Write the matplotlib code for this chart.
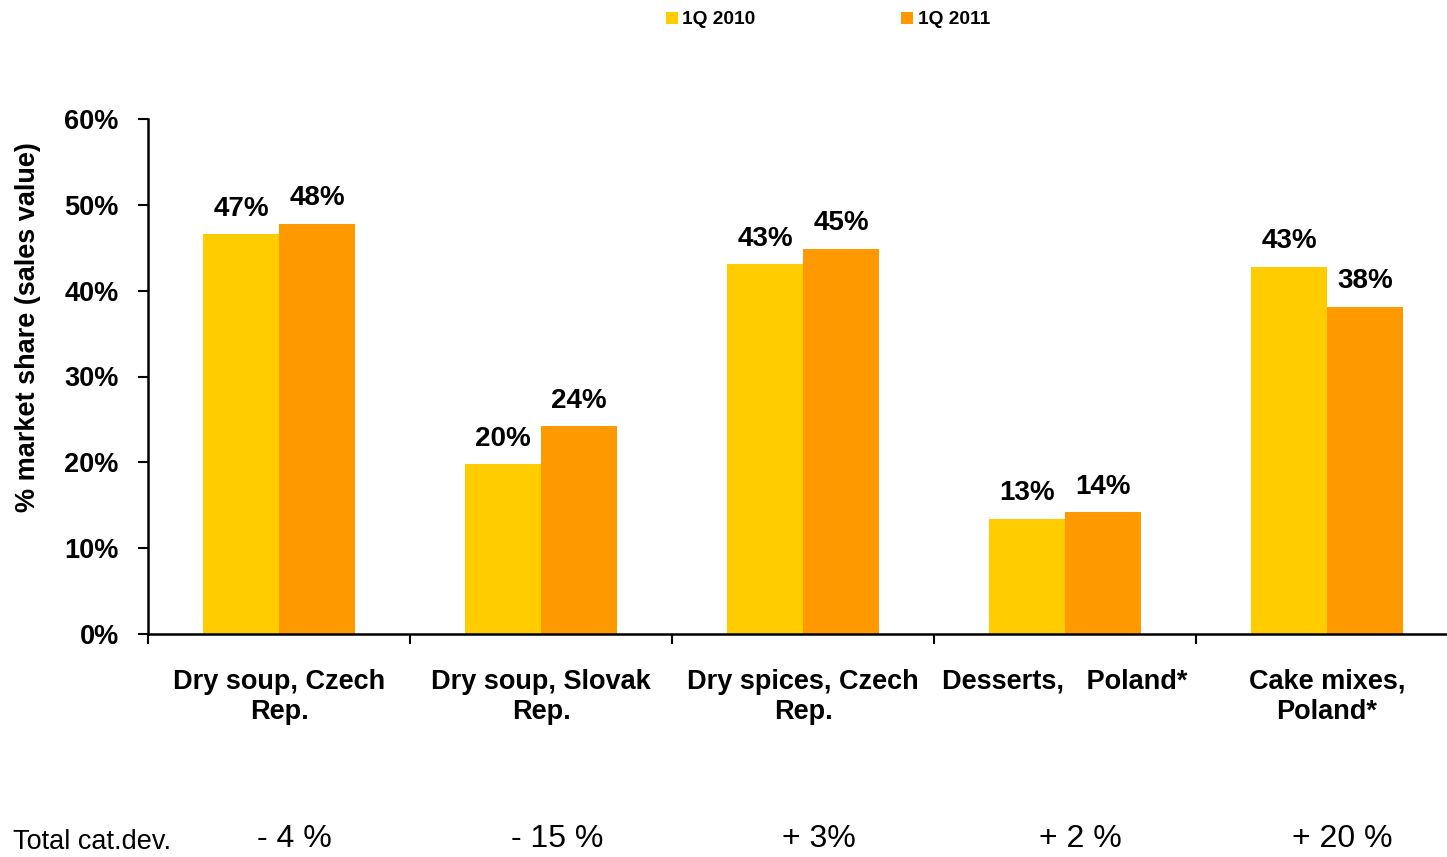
import matplotlib
matplotlib.use("Agg")
import matplotlib.pyplot as plt
from matplotlib.ticker import PercentFormatter
import matplotlib.transforms as mtransforms
import numpy as np

plt.rcParams['font.family'] = ['Liberation Sans', 'DejaVu Sans']

categories = ["Dry soup, Czech\nRep.", "Dry soup, Slovak\nRep.", "Dry spices, Czech\nRep.",
              "Desserts,   Poland*", "Cake mixes,\nPoland*"]
series_names = ["1Q 2010", "1Q 2011"]
values_2010 = [46.6, 19.8, 43.1, 13.4, 42.8]
values_2011 = [47.8, 24.2, 44.9, 14.2, 38.1]
labels_2010 = ["47%", "20%", "43%", "13%", "43%"]
labels_2011 = ["48%", "24%", "45%", "14%", "38%"]
total_dev = ["- 4 %", "- 15 %", "+ 3%", "+ 2 %", "+ 20 %"]
yticks = [0, 10, 20, 30, 40, 50, 60]

colors = ["#FFCC00", "#FF9900"]
W, H = 1447, 857
fig = plt.figure(figsize=(W / 100, H / 100), dpi=100)
ax = fig.add_axes([148 / W, 1 - 634 / H, 1310 / W, (634 - 119) / H])

x = np.arange(len(categories))
bw = 0.29
b1 = ax.bar(x - bw / 2, values_2010, bw, color=colors[0], label=series_names[0])
b2 = ax.bar(x + bw / 2, values_2011, bw, color=colors[1], label=series_names[1])

for bars, labs in ((b1, labels_2010), (b2, labels_2011)):
    for rect, lab in zip(bars, labs):
        ax.annotate(lab, (rect.get_x() + rect.get_width() / 2, rect.get_height()),
                    xytext=(0, 9), textcoords="offset points", ha="center", va="bottom",
                    fontsize=20, fontweight="bold")

ax.set_xlim(-0.5, len(categories) - 0.5)
ax.set_ylim(0, 60)
ax.set_yticks(yticks)
ax.yaxis.set_major_formatter(PercentFormatter(decimals=0))
ax.tick_params(axis="y", direction="out", length=7, width=1.5, pad=14, labelsize=19.5)
for t in ax.get_yticklabels():
    t.set_fontweight("bold")

ax.set_xticks(np.arange(len(categories) + 1) - 0.5)
ax.set_xticklabels([])
ax.set_xticks(x, minor=True)
ax.set_xticklabels(categories, minor=True, fontsize=19.5, fontweight="bold", linespacing=1.2)
ax.tick_params(axis="x", which="major", direction="out", length=7, width=1.5)
ax.tick_params(axis="x", which="minor", length=0, pad=25)

for s in ("top", "right"):
    ax.spines[s].set_visible(False)
for s in ("left", "bottom"):
    ax.spines[s].set_linewidth(1.8)

fig.text(28 / W, 1 - 327 / H, "% market share (sales value)", rotation=90, ha="center",
         va="center", fontsize=19.5, fontweight="bold")

leg = fig.legend(handles=[b1, b2], loc="center", bbox_to_anchor=(828 / W, 1 - 20 / H), ncol=2,
                 frameon=False, handlelength=0.6, handleheight=0.6, handletextpad=0.25,
                 columnspacing=7.6, prop={"size": 13.8, "weight": "bold"})

trans = mtransforms.blended_transform_factory(ax.transData, fig.transFigure)
fig.text(13 / W, 1 - 842 / H, "Total cat.dev.", ha="left", va="center", fontsize=19.5)
for i, t in enumerate(total_dev):
    ax.text(i + 0.06, 1 - 839 / H, t, transform=trans, ha="center", va="center",
            fontsize=23, clip_on=False)

fig.savefig("out.png", dpi=100)
